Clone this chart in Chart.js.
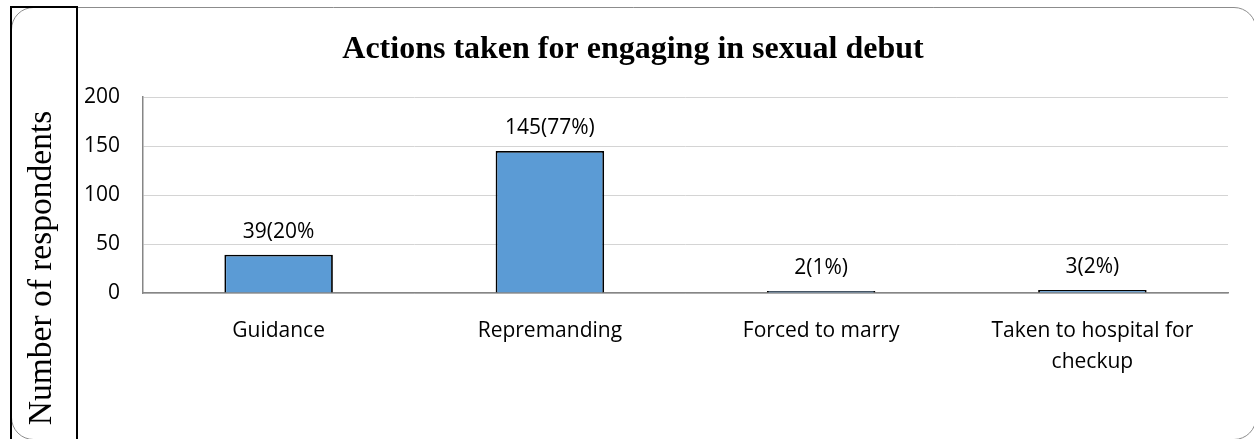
<!DOCTYPE html>
<html>
<head>
<meta charset="utf-8">
<title>Actions taken for engaging in sexual debut</title>
<script src="https://cdn.jsdelivr.net/npm/chart.js@4.4.0/dist/chart.umd.min.js"></script>
<style>
  html, body { margin: 0; padding: 0; background: #fff; }
  #wrap { width: 1254px; height: 439px; }
</style>
</head>
<body>
<div id="wrap"><canvas id="bar-chart" width="1254" height="439"></canvas></div>
<script>
var categories = ["Guidance", "Repremanding", "Forced to marry", ["Taken to hospital for", "checkup"]];
var respondents = [39, 145, 2, 3];
var valueLabels = ["39(20%", "145(77%)", "2(1%)", "3(2%)"];
var yTicks = [0, 50, 100, 150, 200];
var chartTitle = "Actions taken for engaging in sexual debut";
var yTitle = "Number of respondents";

var sans = '"Open Sans", "Noto Sans", sans-serif';
var serif = '"Liberation Serif", "DejaVu Serif", serif';

// outer frame, the boxed axis title on the left and the heading
var framePlugin = {
  id: 'frame',
  beforeDraw: function (chart) {
    var ctx = chart.ctx;
    ctx.save();
    // rounded grey border, right and bottom edges run off the page
    ctx.strokeStyle = '#8c8c8c';
    ctx.lineWidth = 1;
    ctx.beginPath();
    ctx.roundRect(11.5, 7.5, 1244.5, 432, 22);
    ctx.stroke();
    // black box holding the y title
    ctx.strokeStyle = '#000';
    ctx.lineWidth = 2;
    ctx.beginPath();
    ctx.moveTo(11, 440);
    ctx.lineTo(11, 7);
    ctx.lineTo(77, 7);
    ctx.lineTo(77, 440);
    ctx.stroke();
    ctx.restore();
  },
  afterDraw: function (chart) {
    var ctx = chart.ctx;
    ctx.save();
    ctx.fillStyle = '#000';
    ctx.textAlign = 'center';
    ctx.textBaseline = 'alphabetic';
    ctx.font = 'bold 32px ' + serif;
    ctx.fillText(chartTitle, 633, 58);

    ctx.translate(51, 268);
    ctx.rotate(-Math.PI / 2);
    ctx.font = '33.5px ' + serif;
    ctx.fillText(yTitle, 0, 0);
    ctx.restore();
  }
};

// value text above each bar
var valueLabelPlugin = {
  id: 'valueLabels',
  afterDatasetsDraw: function (chart) {
    var ctx = chart.ctx;
    var meta = chart.getDatasetMeta(0);
    ctx.save();
    ctx.fillStyle = '#000';
    ctx.font = '21px ' + sans;
    ctx.textAlign = 'center';
    ctx.textBaseline = 'alphabetic';
    meta.data.forEach(function (bar, i) {
      ctx.fillText(valueLabels[i], bar.x, bar.y - 17);
    });
    ctx.restore();
  }
};

new Chart(document.getElementById("bar-chart"), {
  type: 'bar',
  data: {
    labels: categories,
    datasets: [{
      label: yTitle,
      data: respondents,
      backgroundColor: '#5b9bd5',
      borderColor: '#000',
      borderWidth: 1.8,
      borderSkipped: 'bottom',
      barPercentage: 0.4,
      categoryPercentage: 1
    }]
  },
  options: {
    responsive: false,
    devicePixelRatio: 1,
    animation: false,
    layout: { padding: { left: 83, top: 97, right: 26, bottom: 0 } },
    plugins: {
      legend: { display: false },
      title: { display: false },
      tooltip: { enabled: false }
    },
    scales: {
      x: {
        grid: { display: false },
        border: { display: true, color: '#868686', width: 1.5 },
        ticks: {
          color: '#000',
          font: { family: sans, size: 21, lineHeight: 1.43 },
          padding: 15.5,
          autoSkip: false,
          maxRotation: 0
        },
        afterFit: function (scale) { scale.height = 146; }
      },
      y: {
        min: 0,
        max: 200,
        grid: { color: '#d4d4d4', lineWidth: 1, drawTicks: false },
        border: { display: true, color: '#868686', width: 1.5 },
        ticks: {
          color: '#000',
          font: { family: sans, size: 21 },
          padding: 23
        },
        afterBuildTicks: function (scale) {
          scale.ticks = yTicks.map(function (v) { return { value: v }; });
        },
        afterFit: function (scale) { scale.width = 60; }
      }
    }
  },
  plugins: [framePlugin, valueLabelPlugin]
});
</script>
</body>
</html>
